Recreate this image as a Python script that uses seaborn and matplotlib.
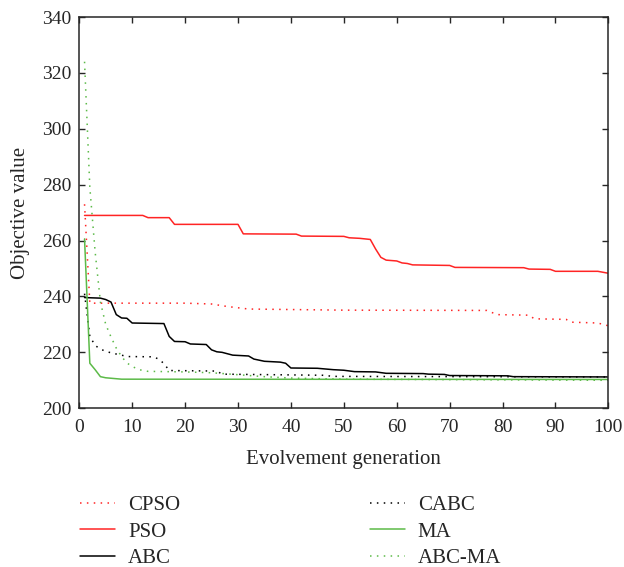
import pandas as pd
import matplotlib
matplotlib.use("Agg")
import matplotlib.pyplot as plt
import seaborn as sns

# convergence curves (generation, objective value)
cpso_gen = [1, 2, 3, 20, 25, 28, 32, 50, 77, 79, 85, 86, 92, 93, 98, 100]
cpso_val = [273.0, 237.6, 237.6, 237.6, 237.3, 236.4, 235.5, 235.1, 235.0, 233.5, 233.3, 232.0,
            231.8, 230.8, 230.5, 229.5]

pso_gen = [1, 12, 13, 17, 18, 30, 31, 41, 42, 50, 51, 53, 55, 56, 57, 58, 60, 61, 62, 63, 70, 71,
           84, 85, 89, 90, 98, 100]
pso_val = [269.0, 269.0, 268.2, 268.2, 265.8, 265.8, 262.4, 262.3, 261.6, 261.5, 261.0, 260.8,
           260.4, 257.0, 254.0, 253.0, 252.7, 252.0, 251.8, 251.3, 251.1, 250.4, 250.3, 249.8,
           249.7, 249.0, 249.0, 248.3]

abc_gen = [1, 4, 5, 6, 7, 8, 9, 10, 16, 17, 18, 20, 21, 24, 25, 26, 27, 29, 32, 33, 35, 38, 39,
           40, 45, 48, 50, 52, 56, 58, 65, 66, 69, 70, 81, 82, 100]
abc_val = [239.6, 239.4, 238.9, 238.0, 233.5, 232.3, 232.2, 230.5, 230.3, 225.7, 223.9, 223.8,
           223.0, 222.8, 220.9, 220.2, 220.0, 219.0, 218.7, 217.6, 216.8, 216.5, 216.1, 214.4,
           214.3, 213.8, 213.6, 213.1, 213.0, 212.5, 212.4, 212.2, 212.1, 211.7, 211.6, 211.3,
           211.2]

cabc_gen = [1, 2, 3, 4, 6, 8, 9, 14, 15, 16, 17, 26, 27, 46, 48, 100]
cabc_val = [241.0, 225.7, 222.5, 221.1, 219.8, 219.0, 218.5, 218.4, 217.6, 216.0, 213.5, 213.3,
            212.2, 211.8, 211.4, 211.2]

ma_gen = [1, 2, 3, 4, 5, 8, 100]
ma_val = [260.6, 216.1, 213.8, 211.3, 210.9, 210.4, 210.3]

abcma_gen = [1, 2, 3, 4, 5, 6, 7, 8, 9, 10, 11, 12, 13, 20, 25, 30, 35, 40, 50, 100]
abcma_val = [324.0, 279.0, 256.0, 238.0, 230.0, 225.5, 221.5, 218.5, 216.2, 215.0, 214.0,
             213.5, 213.2, 213.0, 212.7, 212.0, 211.3, 210.8, 210.4, 210.0]

x_ticks = list(range(0, 101, 10))
y_ticks = list(range(200, 341, 20))

sns.set_style("ticks")
plt.rcParams['font.family'] = ['Liberation Serif', 'DejaVu Serif']
plt.rcParams['font.size'] = 14

red = "#ff2424"
green = "#5cba48"
dots = (0, (1, 3.5))

series = [
    ("CPSO", cpso_gen, cpso_val, red, dots),
    ("PSO", pso_gen, pso_val, red, "-"),
    ("ABC", abc_gen, abc_val, "black", "-"),
    ("CABC", cabc_gen, cabc_val, "black", dots),
    ("MA", ma_gen, ma_val, green, "-"),
    ("ABC-MA", abcma_gen, abcma_val, green, dots),
]

fig = plt.figure(figsize=(6.24, 5.67), dpi=100)
ax = fig.add_axes([0.127, 0.28, 0.848, 0.69])

for name, gen, val, col, ls in series:
    df = pd.DataFrame({"gen": gen, "val": val})
    sns.lineplot(data=df, x="gen", y="val", ax=ax, color=col, linestyle=ls,
                 linewidth=1.1, estimator=None, sort=False, label=name)

ax.set_xlim(0, 100)
ax.set_ylim(200, 340)
ax.set_xticks(x_ticks)
ax.set_yticks(y_ticks)
ax.tick_params(direction="in", top=True, right=True, length=4, width=1, labelsize=14)
ax.tick_params(axis="x", pad=8)
ax.tick_params(axis="y", pad=5.5)
for s in ax.spines.values():
    s.set_linewidth(1.1)
ax.set_xlabel("Evolvement generation", fontsize=15, labelpad=10)
ax.set_ylabel("Objective value", fontsize=15, labelpad=9)

handles, labels = ax.get_legend_handles_labels()
ax.get_legend().remove()
fig.legend(handles, labels, ncol=2, frameon=False, loc="upper left",
           bbox_to_anchor=(0.098, 0.159), bbox_transform=fig.transFigure,
           handlelength=1.68, handletextpad=0.63, columnspacing=9.1, labelspacing=0.33,
           fontsize=15)

fig.savefig("out.png", dpi=100)
